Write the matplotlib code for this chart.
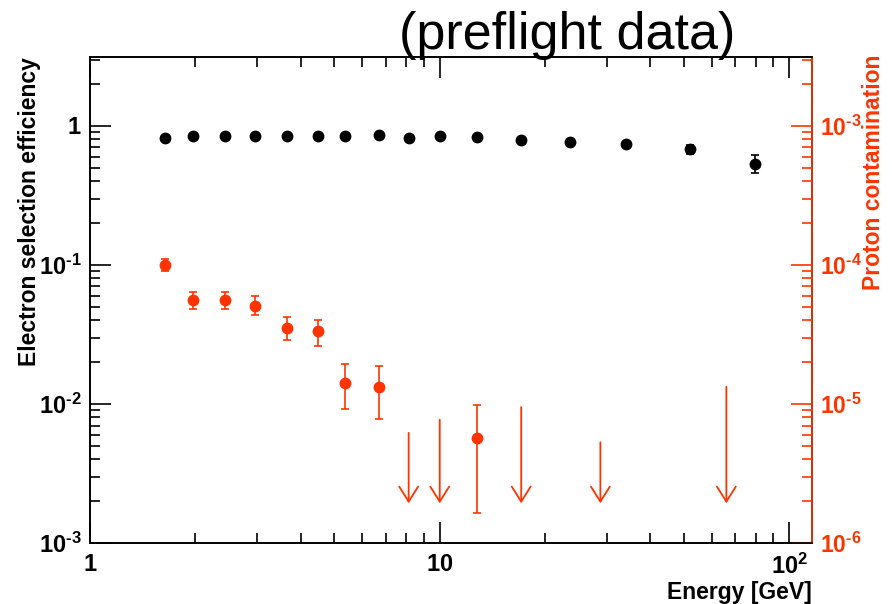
import matplotlib.pyplot as plt
from matplotlib.ticker import LogLocator, FixedLocator, FixedFormatter, NullFormatter

plt.rcParams['font.family'] = ['Liberation Sans', 'DejaVu Sans']
plt.rcParams['mathtext.fontset'] = 'custom'
plt.rcParams['mathtext.rm'] = 'Liberation Sans:bold'
plt.rcParams['mathtext.bf'] = 'Liberation Sans:bold'
plt.rcParams['mathtext.it'] = 'Liberation Sans:bold'

RED = '#ff3300'

# electron selection efficiency (left axis)
e_energy = [1.64, 1.97, 2.43, 2.96, 3.65, 4.48, 5.35, 6.7, 8.15, 10.0, 12.8, 17.1, 23.5, 34.0, 51.8, 79.5]
e_eff = [0.824, 0.847, 0.847, 0.847, 0.847, 0.847, 0.847, 0.861, 0.824, 0.847, 0.83, 0.789, 0.771, 0.738, 0.68, 0.535]
e_err = [0.01, 0.01, 0.01, 0.01, 0.01, 0.01, 0.01, 0.01, 0.01, 0.01, 0.012, 0.015, 0.015, 0.02, 0.05, 0.08]

# proton contamination (right axis)
p_energy = [1.64, 1.97, 2.43, 2.96, 3.65, 4.48, 5.35, 6.7, 12.8]
p_cont = [1.0e-4, 5.6e-5, 5.6e-5, 5.1e-5, 3.5e-5, 3.35e-5, 1.42e-5, 1.33e-5, 5.7e-6]
p_err_lo = [1.0e-5, 0.8e-5, 0.8e-5, 0.7e-5, 0.6e-5, 0.73e-5, 0.5e-5, 0.55e-5, 4.05e-6]
p_err_hi = [1.1e-5, 0.8e-5, 0.8e-5, 0.9e-5, 0.7e-5, 0.66e-5, 0.52e-5, 0.55e-5, 4.1e-6]

# upper limits on proton contamination
ul_energy = [8.15, 10.0, 17.1, 28.8, 66.0]
ul_value = [6.2e-6, 7.7e-6, 9.5e-6, 5.3e-6, 1.33e-5]
ul_tip = 1.93e-6

x_ticks = [1, 10, 100]
x_labels = ['$1$', '$10$', r'$10^{2}$']
y_ticks = [1e-3, 1e-2, 1e-1, 1]
y_labels = [r'$10^{\text{-}3}$', r'$10^{\text{-}2}$', r'$10^{\text{-}1}$', '$1$']
y2_ticks = [1e-6, 1e-5, 1e-4, 1e-3]
y2_labels = [r'$10^{\text{-}6}$', r'$10^{\text{-}5}$', r'$10^{\text{-}4}$', r'$10^{\text{-}3}$']

fig = plt.figure(figsize=(8.92, 6.04), dpi=100)
ax = fig.add_axes([90 / 892, 1 - 543 / 604, (812 - 90) / 892, (543 - 57) / 604])
ax2 = ax.twinx()

ax.set_xscale('log')
ax.set_yscale('log')
ax2.set_yscale('log')
ax.set_xlim(1, 116)
ax.set_ylim(1e-3, 3.13)
ax2.set_ylim(1e-6, 3.13e-3)

ax.errorbar(e_energy, e_eff, yerr=e_err, fmt='o', color='black', ms=7.5,
            elinewidth=1.2, capsize=3, capthick=1.2, zorder=3)
ax2.errorbar(p_energy, p_cont, yerr=[p_err_lo, p_err_hi], fmt='o', color=RED, ms=7.5,
             elinewidth=1.2, capsize=3, capthick=1.2, zorder=3)
for xe, yv in zip(ul_energy, ul_value):
    ax2.annotate('', xy=(xe, ul_tip), xytext=(xe, yv),
                 arrowprops=dict(arrowstyle='->,head_length=1.08,head_width=0.68',
                                 color=RED, lw=1.3, shrinkA=0, shrinkB=0))

# ticks
ax.xaxis.set_major_locator(FixedLocator(x_ticks))
ax.xaxis.set_major_formatter(FixedFormatter(x_labels))
ax.xaxis.set_minor_locator(LogLocator(base=10, subs=range(2, 10)))
ax.xaxis.set_minor_formatter(NullFormatter())
ax.yaxis.set_major_locator(FixedLocator(y_ticks))
ax.yaxis.set_major_formatter(FixedFormatter(y_labels))
ax.yaxis.set_minor_locator(LogLocator(base=10, subs=range(2, 10)))
ax.yaxis.set_minor_formatter(NullFormatter())
ax2.yaxis.set_major_locator(FixedLocator(y2_ticks))
ax2.yaxis.set_major_formatter(FixedFormatter(y2_labels))
ax2.yaxis.set_minor_locator(LogLocator(base=10, subs=range(2, 10)))
ax2.yaxis.set_minor_formatter(NullFormatter())

ax.tick_params(axis='both', which='both', direction='in', width=1.2, top=True, right=False,
               labelsize=17)
ax.tick_params(axis='both', which='major', length=15)
ax.tick_params(axis='both', which='minor', length=7.5)
ax.tick_params(axis='x', pad=8)
ax.tick_params(axis='y', pad=6)
ax2.tick_params(axis='y', which='both', direction='in', width=1.2, colors=RED, labelsize=16.5, pad=6)
ax2.tick_params(axis='y', which='major', length=15)
ax2.tick_params(axis='y', which='minor', length=7.5)

for s in ax.spines.values():
    s.set_linewidth(1.2)
for s in ax2.spines.values():
    s.set_linewidth(1.2)
ax2.spines['right'].set_color(RED)

fig.text(30 / 892, 1 - 57 / 604, 'Electron selection efficiency', rotation=90,
         ha='center', va='top', fontsize=16.5, fontweight='bold')
fig.text(874 / 892, 1 - 55 / 604, 'Proton contamination', rotation=90,
         ha='center', va='top', fontsize=16.5, fontweight='bold', color=RED)
fig.text(812 / 892, 1 - 592 / 604, 'Energy [GeV]', ha='right', va='center',
         fontsize=16.5, fontweight='bold')
fig.text(567 / 892, 1 - 49 / 604, '(preflight data)', ha='center', va='baseline',
         fontsize=37.5)

fig.savefig('out.png', dpi=100)
